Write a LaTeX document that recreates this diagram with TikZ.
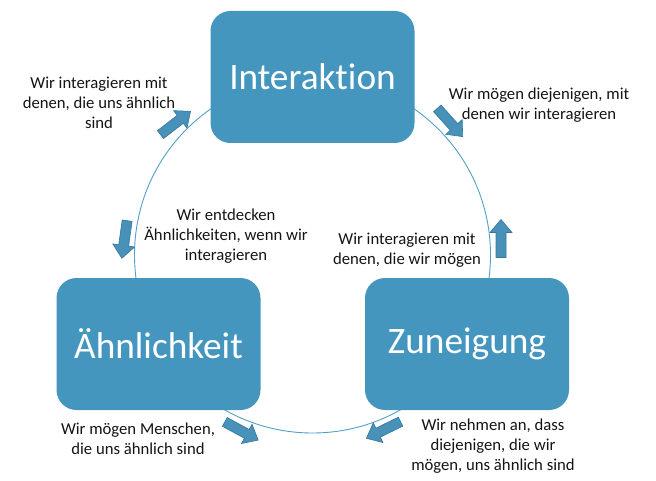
\documentclass[tikz,border=0pt]{standalone}
\usepackage{fontspec}
\setmainfont{Carlito}[Ligatures={NoCommon}]
\definecolor{boxblue}{RGB}{69,150,190}
\definecolor{arrfill}{RGB}{72,146,186}
\definecolor{arrline}{RGB}{52,118,156}
\definecolor{ringblue}{RGB}{80,160,200}
\definecolor{txt}{RGB}{20,20,20}
\tikzset{
  box/.style={fill=boxblue, rounded corners=20pt, minimum width=204pt, minimum height=132pt, text=white, font=\fontsize{37.3}{40}\selectfont, inner sep=0pt},
  lbl/.style={align=center, text=txt, font=\fontsize{16.7}{20}\selectfont, inner sep=0pt},
  arrowstyle/.style={fill=arrfill, draw=arrline, line width=0.6pt, line join=miter},
  barrow/.pic={\path[arrowstyle] (-19,-5) -- (6,-5) -- (6,-11) -- (19,0) -- (6,11) -- (6,5) -- (-19,5) -- cycle;}
}
\begin{document}
\begin{tikzpicture}[x=1pt,y=1pt]
\useasboundingbox (0,0) rectangle (656,480);
\coordinate (c) at (312.5,225);
\draw[ringblue, line width=0.9pt] (c) circle (178pt);
\node[box] (inter) at (312.5,403) {Interaktion};
\node[box] (aehn) at (158.5,136) {Ähnlichkeit};
\node[box] (zun) at (467,136) {Zuneigung};
\node[lbl] (t1) at (99,377) {Wir interagieren mit\\denen, die uns ähnlich\\sind};
\node[lbl] (t2) at (539,375) {Wir mögen diejenigen, mit\\denen wir interagieren};
\node[lbl] (t3) at (226,244) {Wir entdecken\\Ähnlichkeiten, wenn wir\\interagieren};
\node[lbl] (t4) at (407,230) {Wir interagieren mit\\denen, die wir mögen};
\node[lbl] (t5) at (138,41) {Wir mögen Menschen,\\die uns ähnlich sind};
\node[lbl] (t6) at (493,34) {Wir nehmen an, dass\\diejenigen, die wir\\mögen, uns ähnlich sind};
\pic[rotate=37.7] (a1) at (175.5,357) {barrow};
\pic[rotate=-48] (a2) at (450,357.5) {barrow};
\pic[rotate=90] (a3) at (501,241.5) {barrow};
\pic[rotate=-98] (a4) at (124.5,240.5) {barrow};
\pic[rotate=-28.6] (a5) at (241.5,49) {barrow};
\pic[rotate=206] (a6) at (383.5,50) {barrow};
\end{tikzpicture}
\end{document}
